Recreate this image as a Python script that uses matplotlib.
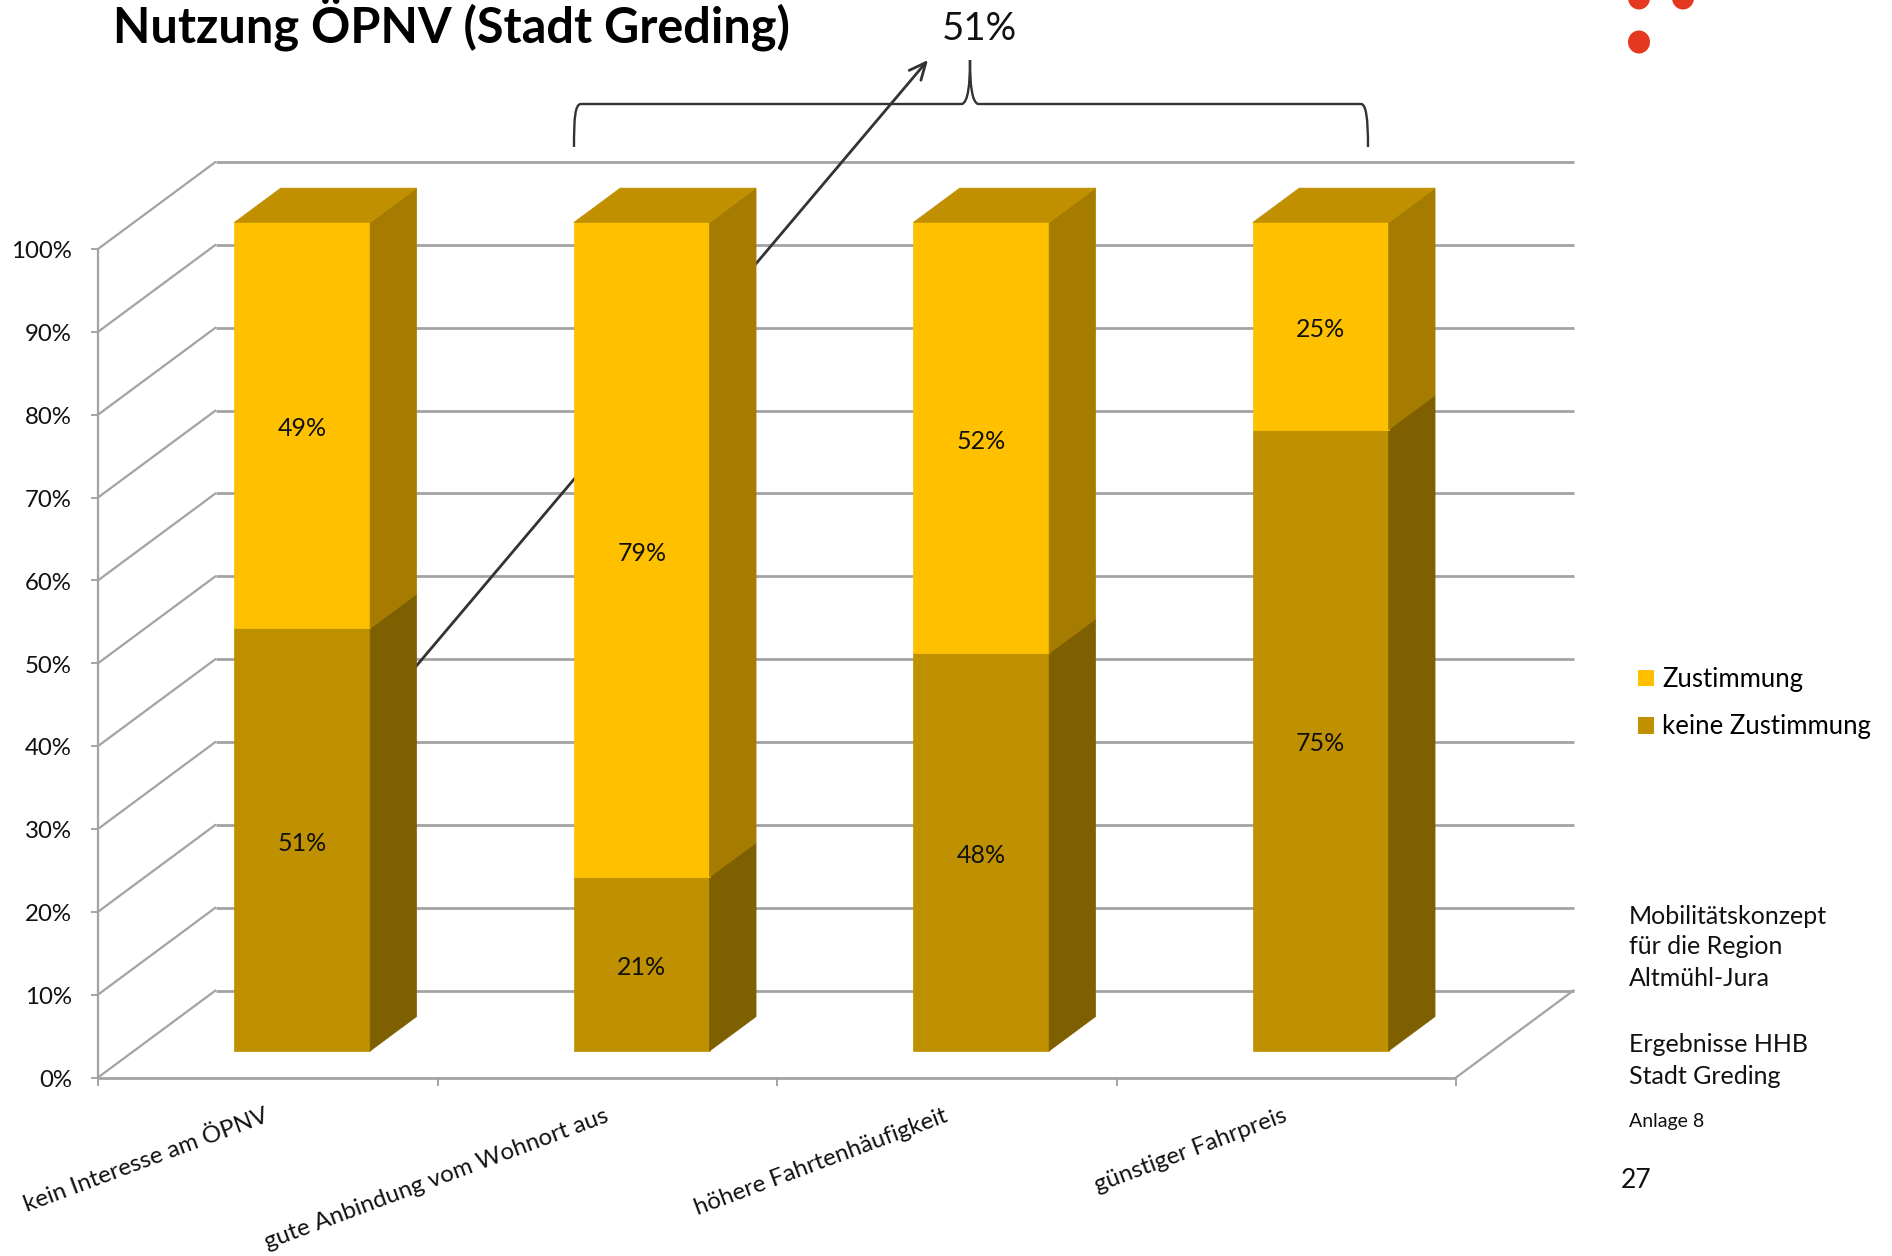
"""Stacked pseudo-3D column chart: Nutzung OEPNV (Stadt Greding)."""

import matplotlib
matplotlib.use('Agg')
import matplotlib.pyplot as plt
from matplotlib.patches import Polygon, Ellipse, Patch
from matplotlib.path import Path
from matplotlib.patches import PathPatch

categories = ['kein Interesse am ÖPNV', 'gute Anbindung vom Wohnort aus',
              'höhere Fahrtenhäufigkeit', 'günstiger Fahrpreis']
keine_zustimmung = [51, 21, 48, 75]
zustimmung = [49, 79, 52, 25]
y_ticks = [0, 10, 20, 30, 40, 50, 60, 70, 80, 90, 100]
side_lines = ['Mobilitätskonzept', 'für die Region', 'Altmühl-Jura',
              'Ergebnisse HHB', 'Stadt Greding']

W, H = 1892, 1256
FONT = 'Lato'
GRID = '#A3A3A3'

# pixel geometry of the chart plane
X0, X_UNIT = 98.0, 339.5
Y0, Y_UNIT = 1077.5, 8.285
DEPTH_X, DEPTH_Y = 117.5 / X_UNIT, 87.0 / Y_UNIT  # wall offset in data units

plt.rcParams['font.family'] = [FONT, 'DejaVu Sans']
fig = plt.figure(figsize=(W / 100, H / 100), dpi=100, facecolor='white')

# chart axes: x in categories, y in percent, covers the whole figure
ax = fig.add_axes([0, 0, 1, 1])
ax.set_xlim(-X0 / X_UNIT, (W - X0) / X_UNIT)
ax.set_ylim((Y0 - H) / Y_UNIT, Y0 / Y_UNIT)
ax.axis('off')

# page axes in pixels, for everything around the chart
page = fig.add_axes([0, 0, 1, 1], zorder=5)
page.set_xlim(0, W)
page.set_ylim(H, 0)
page.axis('off')
page.patch.set_alpha(0)


def project(x, y, d):
    """Shift a chart point back by depth d (0 front wall edge, 1 back wall)."""
    return (x + d * DEPTH_X, y + d * DEPTH_Y)


def draw_box(x, y_low, y_high, width, d1, d2, front, side, top=None):
    p1 = project(x, y_low, d1)
    p2 = project(x + width, y_low, d1)
    p3 = project(x + width, y_high, d1)
    p4 = project(x, y_high, d1)
    p5 = project(x + width, y_low, d2)
    p6 = project(x + width, y_high, d2)
    p7 = project(x, y_high, d2)
    ax.add_patch(Polygon([p1, p2, p3, p4], fc=front, ec=front, lw=0.5, zorder=4))
    ax.add_patch(Polygon([p2, p5, p6, p3], fc=side, ec=side, lw=0.5, zorder=4))
    if top:
        ax.add_patch(Polygon([p4, p3, p6, p7], fc=top, ec=top, lw=0.5, zorder=4))


# walls and grid
n = len(categories)
for v in y_ticks:
    bx, by = project(0, v, 1)
    ax.plot([0, bx], [v, by], color=GRID, lw=1.6, zorder=1, solid_capstyle='round')
    ax.plot([bx, project(n, v, 1)[0]], [by, by], color=GRID, lw=2.0, zorder=1,
            solid_capstyle='butt')
    ax.plot([-6 / X_UNIT, 0], [v, v], color=GRID, lw=1.4, zorder=1)
    ax.text(-26 / X_UNIT, v - 0.35, f'{v}%', ha='right', va='center', fontsize=17.3,
            color='#111111')

ax.plot([0, 0], [0, 100], color=GRID, lw=1.6, zorder=1)
ax.plot([0, n], [0, 0], color=GRID, lw=2.0, zorder=1, solid_capstyle='butt')
ax.plot([n, project(n, 0, 1)[0]], [0, project(n, 0, 1)[1]], color=GRID, lw=1.6, zorder=1)
for i in range(n + 1):
    ax.plot([i, i], [0, -0.9], color=GRID, lw=1.4, zorder=1)

# arrow runs behind the columns, its start hidden by the first one
ax.annotate('', xy=(928, 60), xytext=(380, 709), xycoords=page.transData,
            textcoords=page.transData, zorder=2,
            arrowprops=dict(arrowstyle='->,head_length=1.2,head_width=0.55',
                            color='#333333', lw=2.0, shrinkA=0, shrinkB=0))

# columns
BAR_W = 0.4
D1, D2 = 0.305, 0.70
for i, (low, high) in enumerate(zip(keine_zustimmung, zustimmung)):
    x = i + (1 - BAR_W) / 2 - 0.004
    draw_box(x, 0, low, BAR_W, D1, D2, '#BF9000', '#7F6000')
    draw_box(x, low, low + high, BAR_W, D1, D2, '#FFC000', '#A67C00', top='#C09000')
    cx, cy = project(x + BAR_W / 2, low / 2 - 0.4, D1)
    ax.text(cx, cy, f'{low}%', ha='center', va='center', fontsize=18,
            color='#111111', zorder=6)
    cx, cy = project(x + BAR_W / 2, low + high / 2 - 0.4, D1)
    ax.text(cx, cy, f'{high}%', ha='center', va='center', fontsize=18,
            color='#111111', zorder=6)

# category labels, rotated, right end under the category centre
for i, cat in enumerate(categories):
    ax.text(i + 0.5, -4.5, cat, rotation=20.5, rotation_mode='anchor', ha='right',
            va='center', fontsize=17.3, color='#111111')

# title and callout
page.text(113, 24, 'Nutzung ÖPNV (Stadt Greding)', fontsize=35, fontweight='bold',
          ha='left', va='center', color='black')
page.text(979, 29, '51%', fontsize=27.5, ha='center', va='center', color='#111111')

# brace over the three right columns
verts = [(574, 147), (574, 118), (575, 104), (581, 104), (962, 104), (968, 102),
         (970, 85), (970, 60), (970, 85), (972, 102), (978, 104), (1361, 104),
         (1366, 104), (1368, 118), (1368, 147)]
codes = [Path.MOVETO, Path.CURVE4, Path.CURVE4, Path.CURVE4, Path.LINETO, Path.CURVE4,
         Path.CURVE4, Path.CURVE4, Path.CURVE4, Path.CURVE4, Path.CURVE4, Path.LINETO,
         Path.CURVE4, Path.CURVE4, Path.CURVE4]
page.add_patch(PathPatch(Path(verts, codes), fill=False, ec='#333333', lw=1.7))

# logo dots, cut by the page edge
for cx, cy in [(1639, -2), (1683, -2), (1639, 42)]:
    page.add_patch(Ellipse((cx, cy), 22, 23, fc='#E43820', ec='none'))

# legend
page.legend(handles=[Patch(fc='#FFC000', label='Zustimmung'),
                     Patch(fc='#BF9000', label='keine Zustimmung')],
            loc='upper left', bbox_to_anchor=(1638, 667), bbox_transform=page.transData,
            frameon=False, fontsize=18.5, handlelength=0.63, handleheight=0.63,
            handletextpad=0.3, labelspacing=0.87, borderpad=0, borderaxespad=0)

# side notes
for text, y in zip(side_lines, [916, 947, 979, 1044, 1076]):
    page.text(1629, y, text, fontsize=18, ha='left', va='center', color='#111111')
page.text(1629, 1122, 'Anlage 8', fontsize=14, ha='left', va='center', color='#111111')
page.text(1621, 1181, '27', fontsize=19, ha='left', va='center', color='#111111')

fig.savefig('out.png', dpi=100, facecolor='white')
